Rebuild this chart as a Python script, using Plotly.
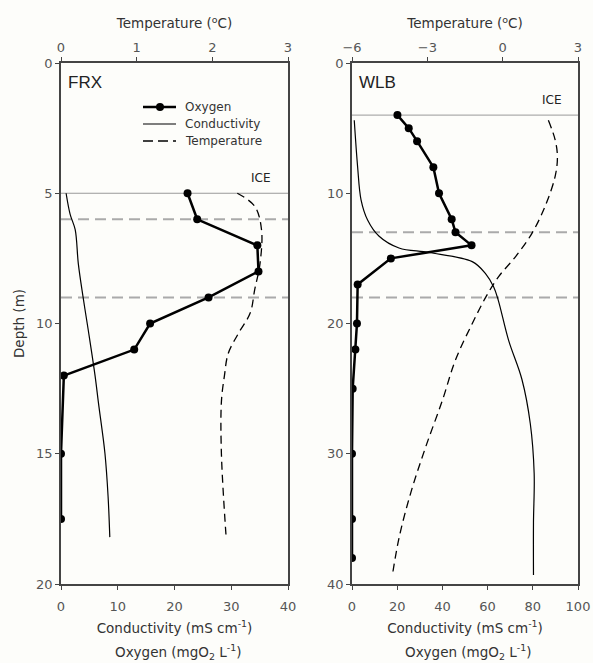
import plotly.graph_objects as go

# ---------------- FRX (left panel) ----------------
frx_oxy_depth = [5, 6, 7, 8, 9, 10, 11, 12, 15, 17.5]
frx_oxy = [22.3, 24.0, 34.6, 34.8, 26.0, 15.7, 12.9, 0.5, 0.0, 0.0]

frx_cond_depth = [5.0, 5.8, 6.4, 7.7, 9.0, 10.25, 12.0, 13.05, 15.0, 16.65, 18.2]
frx_cond = [0.9, 1.6, 2.5, 3.05, 3.9, 4.8, 6.0, 6.6, 7.75, 8.3, 8.6]

frx_temp_depth = [5.0, 5.5, 6.4, 7.7, 8.7, 9.6, 10.4, 11.15, 12.0, 13.0, 15.0, 18.1]
frx_temp = [2.33, 2.56, 2.65, 2.63, 2.56, 2.50, 2.34, 2.21, 2.16, 2.12, 2.12, 2.18]

frx_ice_depth = 5
frx_layer_depths = [6, 9]

# ---------------- WLB (right panel) ----------------
wlb_oxy_depth = [4, 5, 6, 8, 10, 12, 13, 14, 15, 17, 20, 22, 25, 30, 35, 38]
wlb_oxy = [20.1, 25.1, 28.8, 36.0, 38.5, 44.1, 45.8, 52.9, 17.2, 2.5, 2.2, 1.5, 0.3, 0.0, 0.0, 0.0]

wlb_cond_depth = [4.4, 8.0, 10.5, 12.05, 13.3, 14.2, 14.55, 15.25, 16.15, 17.2, 18.2,
                  21.3, 24.3, 27.7, 31.5, 35.3, 39.3]
wlb_cond = [1.0, 2.5, 4.0, 6.9, 12.0, 20.8, 34.1, 53.2, 59.0, 62.7, 64.7,
            69.3, 75.2, 78.9, 80.6, 80.3, 80.3]

wlb_temp_depth = [4.4, 5.9, 7.2, 8.7, 11.0, 13.1, 14.9, 16.4, 17.9, 20.0, 22.8,
                  25.9, 29.5, 33.0, 36.4, 39.3]
wlb_temp = [1.82, 2.09, 2.18, 2.09, 1.69, 1.16, 0.50, -0.16, -0.65, -1.21, -1.88,
            -2.40, -3.07, -3.66, -4.12, -4.39]

wlb_ice_depth = 4
wlb_layer_depths = [13, 18]

# ---------------- axis setup ----------------
frx_x_ticks = [0, 10, 20, 30, 40]
frx_t_ticks = [0, 1, 2, 3]
frx_y_ticks = [0, 5, 10, 15, 20]
wlb_x_ticks = [0, 20, 40, 60, 80, 100]
wlb_t_ticks = [-6, -3, 0, 3]
wlb_y_ticks = [0, 10, 20, 30, 40]

legend_labels = ["Oxygen", "Conductivity", "Temperature"]

FONT = "DejaVu Sans, Verdana, sans-serif"
FONT2 = "Liberation Sans, Arial, sans-serif"
TICKC = "#555555"
AXC = "#444444"
TXTC = "#333333"

W, H = 593, 663
d1 = [61 / W, 288 / W]
d2 = [352 / W, 578 / W]
yd = [1 - 584 / H, 1 - 63 / H]

fig = go.Figure()

# left panel traces
fig.add_trace(go.Scatter(x=frx_oxy, y=frx_oxy_depth, mode="lines+markers", name=legend_labels[0],
                         line=dict(color="black", width=2.5),
                         marker=dict(color="black", size=8), xaxis="x", yaxis="y"))
fig.add_trace(go.Scatter(x=frx_cond, y=frx_cond_depth, mode="lines", name=legend_labels[1],
                         line=dict(color="black", width=1.2, shape="spline"), xaxis="x", yaxis="y"))
fig.add_trace(go.Scatter(x=frx_temp, y=frx_temp_depth, mode="lines", name=legend_labels[2],
                         line=dict(color="black", width=1.3, dash="8px,5px", shape="spline"),
                         xaxis="x2", yaxis="y"))

# right panel traces
fig.add_trace(go.Scatter(x=wlb_oxy, y=wlb_oxy_depth, mode="lines+markers",
                         line=dict(color="black", width=2.5),
                         marker=dict(color="black", size=8), xaxis="x3", yaxis="y2"))
fig.add_trace(go.Scatter(x=wlb_cond, y=wlb_cond_depth, mode="lines",
                         line=dict(color="black", width=1.2, shape="spline"), xaxis="x3", yaxis="y2"))
fig.add_trace(go.Scatter(x=wlb_temp, y=wlb_temp_depth, mode="lines",
                         line=dict(color="black", width=1.3, dash="8px,5px", shape="spline"),
                         xaxis="x4", yaxis="y2"))

shapes = []
# ICE lines
shapes.append(dict(type="line", xref="x domain", yref="y", x0=0, x1=1, y0=frx_ice_depth, y1=frx_ice_depth,
                   line=dict(color="#999999", width=1), layer="below"))
shapes.append(dict(type="line", xref="x3 domain", yref="y2", x0=0, x1=1, y0=wlb_ice_depth, y1=wlb_ice_depth,
                   line=dict(color="#999999", width=1), layer="below"))
for d in frx_layer_depths:
    shapes.append(dict(type="line", xref="x domain", yref="y", x0=0, x1=1, y0=d, y1=d,
                       line=dict(color="#aaaaaa", width=2, dash="11px,6px"), layer="below"))
for d in wlb_layer_depths:
    shapes.append(dict(type="line", xref="x3 domain", yref="y2", x0=0, x1=1, y0=d, y1=d,
                       line=dict(color="#aaaaaa", width=2, dash="11px,6px"), layer="below"))

# manual legend (key samples + labels) in the left panel
leg_x0, leg_x1, leg_tx = 143 / W, 176 / W, 183 / W
leg_rows = [1 - 107 / H, 1 - 124 / H, 1 - 141 / H]
shapes.append(dict(type="line", xref="paper", yref="paper", x0=leg_x0, x1=leg_x1, y0=leg_rows[0], y1=leg_rows[0],
                   line=dict(color="black", width=2.5)))
shapes.append(dict(type="circle", xref="paper", yref="paper",
                   x0=(160 - 4) / W, x1=(160 + 4) / W, y0=leg_rows[0] - 4 / H, y1=leg_rows[0] + 4 / H,
                   fillcolor="black", line=dict(color="black", width=0)))
shapes.append(dict(type="line", xref="paper", yref="paper", x0=leg_x0, x1=leg_x1, y0=leg_rows[1], y1=leg_rows[1],
                   line=dict(color="black", width=1.2)))
shapes.append(dict(type="line", xref="paper", yref="paper", x0=leg_x0, x1=leg_x1, y0=leg_rows[2], y1=leg_rows[2],
                   line=dict(color="black", width=1.3, dash="10px,5px")))

oxy_unit = "Oxygen (mgO<sub>2</sub> L<sup>-1</sup>)"
cond_unit = "Conductivity (mS cm<sup>-1</sup>)"
title_font = dict(size=13.5, color=TXTC, family=FONT)

annotations = [
    dict(text="FRX", xref="x domain", yref="y domain", x=0.02, y=0.985, xanchor="left", yanchor="top",
         showarrow=False, font=dict(size=17, color="#222222", family=FONT2)),
    dict(text="WLB", xref="x3 domain", yref="y2 domain", x=0.02, y=0.985, xanchor="left", yanchor="top",
         showarrow=False, font=dict(size=17, color="#222222", family=FONT2)),
    dict(text="ICE", xref="x domain", yref="y", x=0.935, y=frx_ice_depth, xanchor="right", yanchor="bottom",
         yshift=6, showarrow=False, font=dict(size=12, color="#222222", family=FONT)),
    dict(text="ICE", xref="x3 domain", yref="y2", x=0.94, y=wlb_ice_depth, xanchor="right", yanchor="bottom",
         yshift=6, showarrow=False, font=dict(size=12, color="#222222", family=FONT)),
    dict(text=oxy_unit, xref="x domain", yref="paper", x=0.5, y=1 - 652 / H, xanchor="center",
         yanchor="middle", showarrow=False, xshift=3, font=title_font),
    dict(text=oxy_unit, xref="x3 domain", yref="paper", x=0.5, y=1 - 652 / H, xanchor="center",
         yanchor="middle", showarrow=False, xshift=3, font=title_font),
]
for lab, ry in zip(legend_labels, leg_rows):
    annotations.append(dict(text=lab, xref="paper", yref="paper", x=leg_tx, y=ry, xanchor="left",
                            yanchor="middle", showarrow=False,
                            font=dict(size=12, color=TXTC, family=FONT)))

axis_common = dict(showline=True, linecolor=AXC, linewidth=1.5, ticks="outside", ticklen=4,
                   tickcolor=AXC, showgrid=False, zeroline=False, automargin=False,
                   tickfont=dict(size=13, color=TICKC, family=FONT))

top_title = "Temperature (<sup>o</sup>C)"

fig.update_layout(
    width=W, height=H,
    margin=dict(l=0, r=0, t=0, b=0),
    paper_bgcolor="#fdfdfa", plot_bgcolor="#fdfdfa",
    font=dict(family=FONT),
    showlegend=False,
    xaxis=dict(domain=d1, range=[0, 40], tickvals=frx_x_ticks, anchor="y", side="bottom",
               ticklabelstandoff=6,
               title=dict(text=cond_unit, font=title_font, standoff=10), **axis_common),
    xaxis2=dict(range=[0, 3], tickvals=frx_t_ticks, overlaying="x", side="top", anchor="y",
                title=dict(text=top_title, font=title_font, standoff=8), **axis_common),
    yaxis=dict(domain=yd, range=[20, 0], tickvals=frx_y_ticks, anchor="x",
               title=dict(text="Depth (m)", font=title_font, standoff=8), mirror=True, **axis_common),
    xaxis3=dict(domain=d2, range=[0, 100], tickvals=wlb_x_ticks, anchor="y2", side="bottom",
                ticklabelstandoff=6,
                title=dict(text=cond_unit, font=title_font, standoff=10), **axis_common),
    xaxis4=dict(range=[-6, 3], tickvals=wlb_t_ticks, overlaying="x3", side="top", anchor="y2",
                title=dict(text=top_title, font=title_font, standoff=8), **axis_common),
    yaxis2=dict(domain=yd, range=[40, 0], tickvals=wlb_y_ticks, anchor="x3", mirror=True, **axis_common),
    shapes=shapes,
    annotations=annotations,
)

fig.write_html("out.html")
